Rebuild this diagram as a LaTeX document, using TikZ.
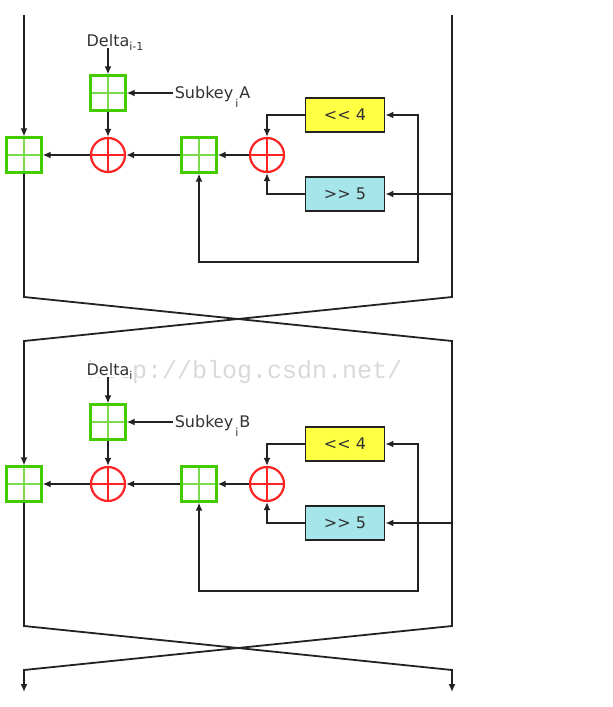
\documentclass[tikz,border=0pt]{standalone}
\usepackage{fontspec}
\setmainfont{DejaVu Sans}
\newfontfamily\wmfont{Liberation Mono}
\usetikzlibrary{arrows.meta,positioning}
\definecolor{ink}{HTML}{222222}
\definecolor{txt}{HTML}{333333}
\definecolor{addgreen}{HTML}{44CC00}
\definecolor{xorred}{HTML}{FF2222}
\definecolor{shlyellow}{HTML}{FFFF44}
\definecolor{shrcyan}{HTML}{A6E6EA}
\newcommand{\lowsub}[2]{\raisebox{-#1}{\fontsize{11}{11}\selectfont #2}}

\begin{document}
\begin{tikzpicture}[
      x=1pt,y=-1pt,
      font=\fontsize{16}{18}\selectfont,
      wire/.style={line width=1.8pt,draw=ink},
      arr/.style={-{Latex[length=8pt,width=7pt]},line width=1.8pt,draw=ink},
      addbox/.style={
        draw=addgreen,
        line width=2.2pt,
        fill=white,
        minimum size=35pt,
        inner sep=0pt,
        path picture={\draw[addgreen!70,line width=1.4pt]
          (path picture bounding box.north) -- (path picture bounding box.south)
          (path picture bounding box.west) -- (path picture bounding box.east);}
      },
      xorcirc/.style={
        circle,
        draw=xorred,
        line width=2.2pt,
        fill=white,
        minimum size=34pt,
        inner sep=0pt,
        path picture={\draw[xorred,line width=1.6pt]
          (path picture bounding box.north) -- (path picture bounding box.south)
          (path picture bounding box.west) -- (path picture bounding box.east);}
      },
      shiftbox/.style={draw=ink,line width=1.8pt,minimum width=79pt,minimum height=34pt,text=txt},
      lbl/.style={text=txt,text height=11.5pt,text depth=0pt,inner sep=2pt},
      wmark/.style={font=\wmfont\fontsize{25}{25}\selectfont,text=black!15,inner sep=0pt}
    ]
    \useasboundingbox (0,0) rectangle (613,707);
    \node[wmark,anchor=base west] (wm) at (87,378) {http://blog.csdn.net/};

    % first half round
    \node[addbox] (keyA) at (108,93) {};
    \node[lbl,above=26pt of keyA] (deltaA) {Delta\rlap{\lowsub{4pt}{i-1}}};
    \node[lbl,right=46pt of keyA] (subA) {Subkey\kern2pt\lowsub{9pt}{i}\kern1pt A};
    \node[xorcirc] (xorA) at (108,155) {};
    \node[addbox] (addA) at (199,155) {};
    \node[xorcirc] (mixA) at (267,155) {};
    \node[addbox] (outA) at (24,155) {};
    \node[shiftbox,fill=shlyellow] (shlA) at (345,115) {<\kern0pt< 4};
    \node[shiftbox,fill=shrcyan] (shrA) at (345,194) {>\kern0pt> 5};
    \coordinate (topLA) at (24,15);
    \coordinate (topRA) at (452,15);
    \coordinate (tapA) at (452,194);
    \coordinate (forkA) at (418,194);
    \coordinate (loopA) at (418,262);
    \coordinate (endLA) at (24,297);
    \coordinate (endRA) at (452,297);

    \draw[arr] (topLA) -- (outA);
    \draw[arr] (deltaA) -- (keyA);
    \draw[arr] (subA) -- (keyA);
    \draw[arr] (keyA) -- (xorA);
    \draw[arr] (mixA) -- (addA);
    \draw[arr] (addA) -- (xorA);
    \draw[arr] (xorA) -- (outA);
    \draw[arr] (shlA) -| (mixA);
    \draw[arr] (shrA) -| (mixA);
    \draw[arr] (tapA) -- (shrA);
    \draw[arr] (forkA) |- (shlA);
    \draw[arr] (forkA) -- (loopA) -| (addA);

    % second half round
    \node[addbox] (keyB) at (108,422) {};
    \node[lbl,fill=white,above=26pt of keyB] (deltaB) {Delta\rlap{\lowsub{4pt}{i}}};
    \node[lbl,right=46pt of keyB] (subB) {Subkey\kern2pt\lowsub{9pt}{i}\kern1pt B};
    \node[xorcirc] (xorB) at (108,484) {};
    \node[addbox] (addB) at (199,484) {};
    \node[xorcirc] (mixB) at (267,484) {};
    \node[addbox] (outB) at (24,484) {};
    \node[shiftbox,fill=shlyellow] (shlB) at (345,444) {<\kern0pt< 4};
    \node[shiftbox,fill=shrcyan] (shrB) at (345,523) {>\kern0pt> 5};
    \coordinate (topLB) at (24,341);
    \coordinate (topRB) at (452,341);
    \coordinate (tapB) at (452,523);
    \coordinate (forkB) at (418,523);
    \coordinate (loopB) at (418,591);
    \coordinate (endLB) at (24,626);
    \coordinate (endRB) at (452,626);
    \coordinate (finL) at (24,670);
    \coordinate (finR) at (452,670);
    \coordinate (outL) at (24,692);
    \coordinate (outR) at (452,692);

    % swap of the halves
    \draw[arr] (outA) -- (endLA) -- (topRB) -- (endRB) -- (finL) -- (outL);
    \draw[arr] (topRA) -- (endRA) -- (topLB) -- (outB);
    \draw[arr] (outB) -- (endLB) -- (finR) -- (outR);

    \draw[arr] (deltaB) -- (keyB);
    \draw[arr] (subB) -- (keyB);
    \draw[arr] (keyB) -- (xorB);
    \draw[arr] (mixB) -- (addB);
    \draw[arr] (addB) -- (xorB);
    \draw[arr] (xorB) -- (outB);
    \draw[arr] (shlB) -| (mixB);
    \draw[arr] (shrB) -| (mixB);
    \draw[arr] (tapB) -- (shrB);
    \draw[arr] (forkB) |- (shlB);
    \draw[arr] (forkB) -- (loopB) -| (addB);
  \end{tikzpicture}
\end{document}
